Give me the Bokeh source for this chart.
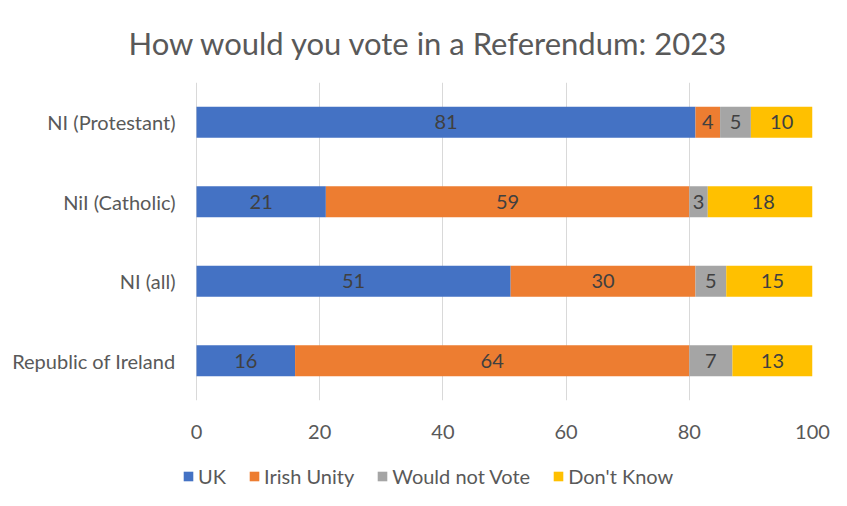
from bokeh.plotting import figure
from bokeh.models import Legend, LegendItem, FixedTicker, ColumnDataSource
from bokeh.layouts import column
from bokeh.core.properties import value
from bokeh.embed import file_html
from bokeh.resources import INLINE

title = "How would you vote in a Referendum: 2023"
categories = ["NI (Protestant)", "NiI (Catholic)", "NI (all)", "Republic of Ireland"]
series = ["UK", "Irish Unity", "Would not Vote", "Don't Know"]
uk = [81, 21, 51, 16]
irish_unity = [4, 59, 30, 64]
would_not_vote = [5, 3, 5, 7]
dont_know = [10, 18, 15, 13]
x_ticks = [0, 20, 40, 60, 80, 100]
colors = ["#4472C4", "#ED7D31", "#A5A5A5", "#FFC000"]

FONT = "Lato"
W = 831
MAIN_H, LEG_H = 455, 35

data = dict(cat=categories, UK=uk)
data["Irish Unity"] = irish_unity
data["Would not Vote"] = would_not_vote
data["Don't Know"] = dont_know
src = ColumnDataSource(data)

# frame starts 14px left of the zero line so that the legend row below lines up
p = figure(width=W, height=MAIN_H, y_range=list(reversed(categories)), x_range=(-2.273, 100),
           output_backend="svg", toolbar_location=None,
           min_border_left=182, min_border_right=19, min_border_top=82, min_border_bottom=55)
p.outline_line_color = None
p.background_fill_color = "white"
p.border_fill_color = "white"

p.title.text = title
p.title.align = "left"
p.title.offset = -54
p.title.vertical_align = "bottom"
p.title.standoff = 41
p.title.text_font = FONT
p.title.text_font_size = "31px"
p.title.text_font_style = "normal"
p.title.text_color = "#595959"

renderers = p.hbar_stack(series, y="cat", height=0.39, color=colors, source=src, line_color=None)

all_vals = [uk, irish_unity, would_not_vote, dont_know]
lx, ly, lt = [], [], []
for i, c in enumerate(categories):
    cum = 0
    for vals in all_vals:
        v = vals[i]
        lx.append(cum + v / 2)
        ly.append(c)
        lt.append(str(v))
        cum += v
p.text(x=lx, y=ly, text=lt, text_align="center", text_baseline="middle",
       text_font=value(FONT), text_font_size="20px", text_color="#404040")

p.xaxis.ticker = FixedTicker(ticks=x_ticks)
for ax in (p.xaxis[0], p.yaxis[0]):
    ax.axis_line_color = None
    ax.major_tick_line_color = None
    ax.minor_tick_line_color = None
    ax.major_label_text_font = FONT
    ax.major_label_text_font_size = "20px"
    ax.major_label_text_color = "#595959"
p.xaxis.major_label_standoff = 18
p.yaxis.major_label_standoff = 1
p.xgrid.grid_line_color = "#D9D9D9"
p.xgrid.ticker = FixedTicker(ticks=x_ticks)
p.ygrid.grid_line_color = None

# legend row: same stacked renderers (hidden), only their legend is shown
lg = figure(width=W, height=LEG_H, y_range=list(reversed(categories)), x_range=(-2.273, 100),
            output_backend="svg", toolbar_location=None, min_border=0,
            min_border_left=182, min_border_right=19)
lg.axis.visible = False
lg.grid.visible = False
lg.outline_line_color = None
lg.background_fill_color = "white"
lg.border_fill_color = "white"
leg_r = lg.hbar_stack(series, y="cat", height=0.39, color=colors, source=src, line_color=None)
for r in leg_r:
    r.visible = False
legend = Legend(items=[LegendItem(label=s, renderers=[r]) for s, r in zip(series, leg_r)],
                orientation="horizontal", location=(0, 2), padding=0, margin=0,
                spacing=22, glyph_width=12, glyph_height=12, label_standoff=4,
                label_text_font=FONT, label_text_font_size="20px", label_text_color="#595959",
                inactive_fill_alpha=0,
                border_line_color=None, background_fill_alpha=0)
lg.add_layout(legend, "center")

layout = column(p, lg, spacing=0)
open("out.html", "w").write(file_html(layout, INLINE))
